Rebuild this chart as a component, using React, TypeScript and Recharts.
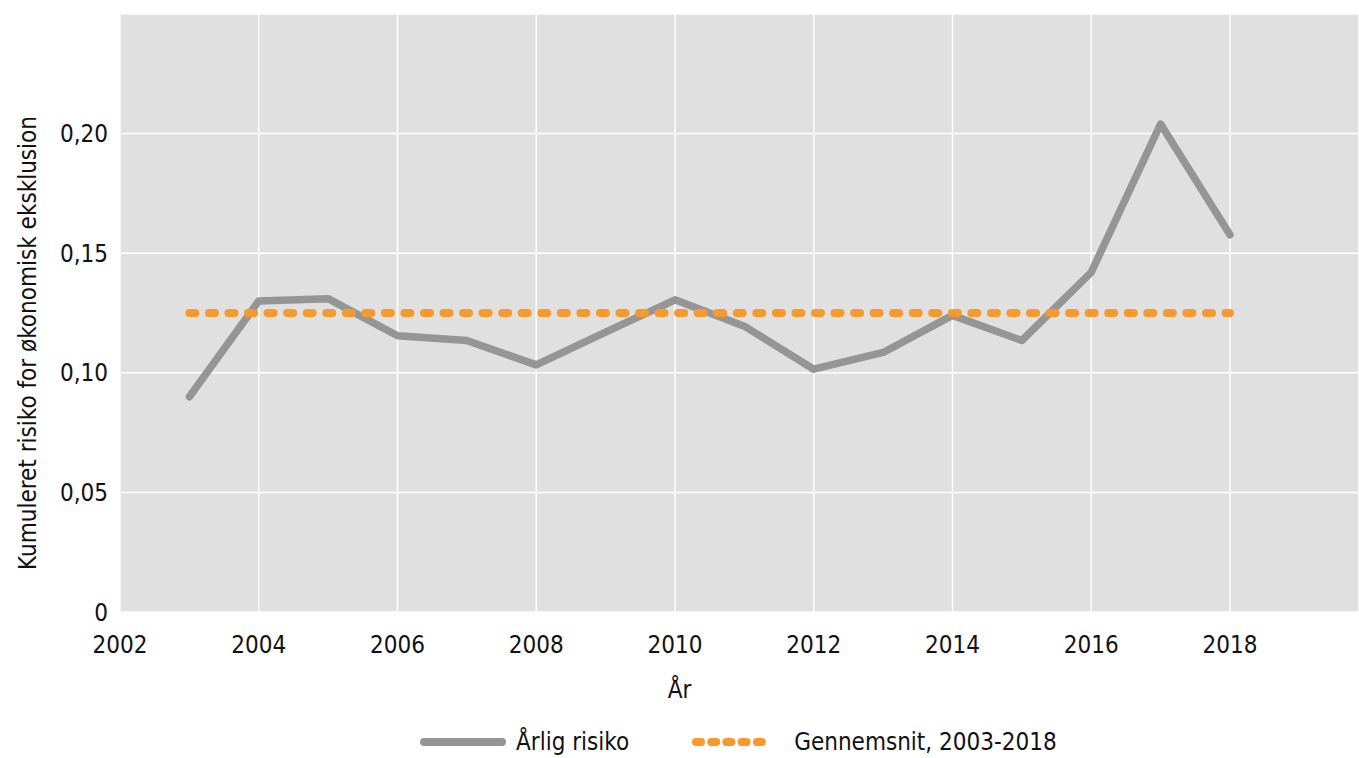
import React from "react"
import { LineChart, Line, XAxis, YAxis, CartesianGrid, Legend } from "recharts"

const years = [2003, 2004, 2005, 2006, 2007, 2008, 2009, 2010, 2011, 2012, 2013, 2014, 2015, 2016, 2017, 2018]
const annualRisk = [0.09, 0.13, 0.131, 0.1155, 0.1135, 0.1033, 0.117, 0.1305, 0.1195, 0.1015, 0.1085, 0.124, 0.1135, 0.142, 0.204, 0.1577]
const averageRisk = [0.125, 0.125, 0.125, 0.125, 0.125, 0.125, 0.125, 0.125, 0.125, 0.125, 0.125, 0.125, 0.125, 0.125, 0.125, 0.125]
const xTicks = [2002, 2004, 2006, 2008, 2010, 2012, 2014, 2016, 2018]
const yTicks = [0, 0.05, 0.1, 0.15, 0.2]

const seriesNames = { annual: "Årlig risiko", average: "Gennemsnit, 2003-2018" }

const data = years.map((year, i) => ({ year, annual: annualRisk[i], average: averageRisk[i] }))

const FONT = "'DejaVu Sans Condensed', 'DejaVu Sans', sans-serif"
const FS = 24
const GRAY = "#959595"
const ORANGE = "#F7992D"
const W = 1359
const H = 758

const fmtY = (v: number) => (v === 0 ? "0" : v.toFixed(2).replace(".", ","))

function LegendContent() {
  return (
    <div style={{ display: "flex", alignItems: "center", fontFamily: FONT, fontSize: FS, color: "#111" }}>
      <svg width={86} height={12} style={{ marginRight: 10 }}>
        <line x1={4} y1={6} x2={82} y2={6} stroke={GRAY} strokeWidth={8} strokeLinecap="round" />
      </svg>
      <span>{seriesNames.annual}</span>
      <svg width={78} height={12} style={{ marginLeft: 63, marginRight: 24 }}>
        <line x1={4} y1={6} x2={74} y2={6} stroke={ORANGE} strokeWidth={8} strokeLinecap="round" strokeDasharray="5 10.2" />
      </svg>
      <span>{seriesNames.average}</span>
    </div>
  )
}

export default function App() {
  return (
    <div style={{ position: "absolute", left: 0, top: 0, background: "#fff" }}>
      <LineChart width={W} height={H} data={data} margin={{ top: 14, right: 0, bottom: 0, left: 0 }}>
        <CartesianGrid fill="#e0e0e0" stroke="#ffffff" strokeWidth={1.5} />
        <XAxis
          dataKey="year"
          type="number"
          domain={[2002, 2019.86]}
          ticks={xTicks}
          allowDataOverflow
          axisLine={false}
          tickLine={false}
          tickSize={0}
          tickMargin={24}
          height={146}
          tick={{ fontFamily: FONT, fontSize: FS, fill: "#111" }}
          label={{
            content: () => (
              <text x={W / 2} y={698} textAnchor="middle" fontFamily={FONT} fontSize={FS} fill="#111">
                År
              </text>
            ),
          }}
        />
        <YAxis
          type="number"
          domain={[0, 0.25]}
          ticks={yTicks}
          tickFormatter={fmtY}
          axisLine={false}
          tickLine={false}
          tickSize={0}
          tickMargin={12}
          width={120}
          tick={{ fontFamily: FONT, fontSize: FS, fill: "#111" }}
          label={{
            content: ({ viewBox }: any) => {
              const cy = viewBox.y + viewBox.height / 2 + 30
              return (
                <text
                  x={28}
                  y={cy}
                  transform={`rotate(-90, 28, ${cy})`}
                  textAnchor="middle"
                  dominantBaseline="central"
                  fontFamily={FONT}
                  fontSize={FS}
                  fill="#111"
                >
                  Kumuleret risiko for økonomisk eksklusion
                </text>
              )
            },
          }}
        />
        <Line
          dataKey="annual"
          name={seriesNames.annual}
          type="linear"
          stroke={GRAY}
          strokeWidth={7.5}
          strokeLinecap="round"
          strokeLinejoin="round"
          dot={false}
          activeDot={false}
          isAnimationActive={false}
        />
        <Line
          dataKey="average"
          name={seriesNames.average}
          type="linear"
          stroke={ORANGE}
          strokeWidth={8}
          strokeLinecap="round"
          strokeDasharray="6 13.55"
          dot={false}
          activeDot={false}
          isAnimationActive={false}
        />
        <Legend
          layout="vertical"
          align="center"
          verticalAlign="middle"
          wrapperStyle={{ top: 728, left: 420, width: 760 }}
          content={() => <LegendContent />}
        />
      </LineChart>
    </div>
  )
}
